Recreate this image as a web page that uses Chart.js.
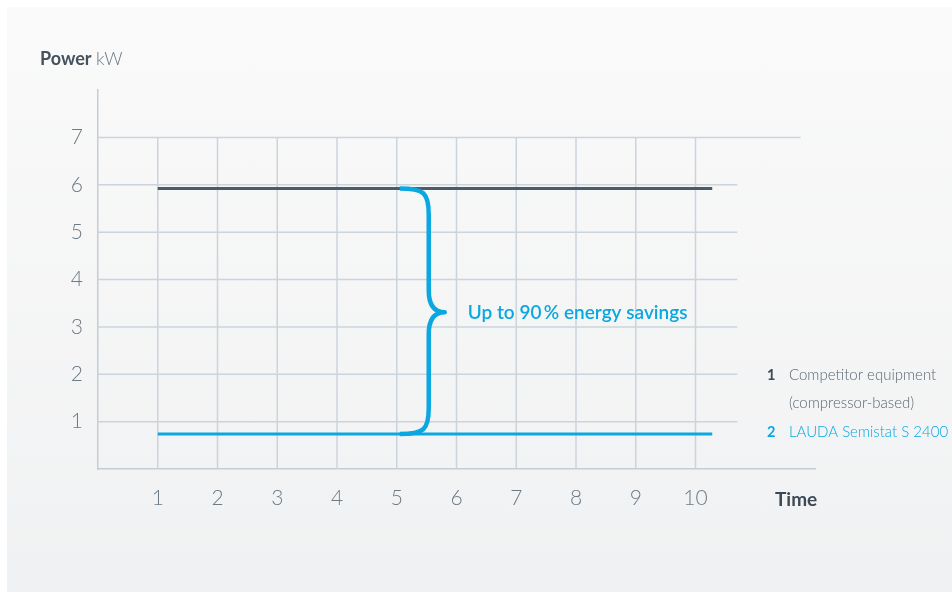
<!DOCTYPE html>
<html>
<head>
<meta charset="utf-8">
<script src="https://cdn.jsdelivr.net/npm/chart.js@4.4.1/dist/chart.umd.min.js"></script>
<style>
  body { margin: 0; background: #fff; }
  #wrap { position: relative; width: 952px; height: 592px; }
  #card { position: absolute; left: 7px; top: 7px; right: 0; bottom: 0;
          background: linear-gradient(#fafafa, #f0f1f2); }
  #chart { position: absolute; left: 0; top: 0; }
</style>
</head>
<body>
<div id="wrap">
  <div id="card"></div>
  <canvas id="chart" width="952" height="592"></canvas>
</div>
<script>
// chart values
const xTicks = [1, 2, 3, 4, 5, 6, 7, 8, 9, 10];
const yTicks = [1, 2, 3, 4, 5, 6, 7];
const timeSteps = [1, 10.28];
const competitorPower = [5.92, 5.92];
const laudaPower = [0.74, 0.74];
const legendNumbers = ["1", "2"];
const legendLabels = [["Competitor equipment", "(compressor-based)"], ["LAUDA Semistat S 2400"]];
const savingsText = "Up to 90\u2009% energy savings";
const braceAt = 5.05;

const gridColor = "#ccd4db";
const darkColor = "#4a5c6a";
const blueColor = "#0aa7e1";
const tickColor = "#6e7a84";
const fontFamily = "Lato, 'Open Sans', sans-serif";

const gridPlugin = {
    id: "customGrid",
    beforeDatasetsDraw(chart) {
        let ctx = chart.ctx;
        let xs = chart.scales.x;
        let ys = chart.scales.y;
        let area = chart.chartArea;
        ctx.save();
        ctx.strokeStyle = gridColor;
        ctx.lineWidth = 1.5;
        let topY = ys.getPixelForValue(yTicks[yTicks.length - 1]);
        xTicks.forEach(v => {
            let px = xs.getPixelForValue(v);
            ctx.beginPath();
            ctx.moveTo(px, topY);
            ctx.lineTo(px, area.bottom);
            ctx.stroke();
        });
        yTicks.forEach((v, i) => {
            let py = ys.getPixelForValue(v);
            let end = i === yTicks.length - 1 ? xs.getPixelForValue(11.76) : xs.getPixelForValue(10.7);
            ctx.beginPath();
            ctx.moveTo(area.left, py);
            ctx.lineTo(end, py);
            ctx.stroke();
        });
        ctx.restore();
    }
};

const extrasPlugin = {
    id: "extras",
    afterDatasetsDraw(chart) {
        let ctx = chart.ctx;
        let xs = chart.scales.x;
        let ys = chart.scales.y;
        ctx.save();

        // curly brace between the two lines
        let x0 = xs.getPixelForValue(braceAt);
        let yTop = ys.getPixelForValue(competitorPower[0]);
        let yBot = ys.getPixelForValue(laudaPower[0]);
        let yMid = (yTop + yBot) / 2 + 1;
        let xv = x0 + 29;
        let xTip = x0 + 45;
        ctx.strokeStyle = blueColor;
        ctx.lineWidth = 4.5;
        ctx.lineJoin = "round";
        ctx.beginPath();
        ctx.moveTo(x0, yTop);
        ctx.bezierCurveTo(x0 + 24, yTop, xv, yTop + 4, xv, yTop + 26);
        ctx.lineTo(xv, yMid - 22);
        ctx.bezierCurveTo(xv, yMid - 6, xv + 6, yMid, xTip, yMid);
        ctx.bezierCurveTo(xv + 6, yMid, xv, yMid + 6, xv, yMid + 22);
        ctx.lineTo(xv, yBot - 26);
        ctx.bezierCurveTo(xv, yBot - 4, x0 + 24, yBot, x0, yBot);
        ctx.stroke();

        ctx.fillStyle = blueColor;
        ctx.font = "600 19px " + fontFamily;
        ctx.textBaseline = "middle";
        ctx.textAlign = "left";
        ctx.fillText(savingsText, xTip + 23, yMid + 1);

        // axis titles
        ctx.textBaseline = "alphabetic";
        ctx.fillStyle = "#44525e";
        ctx.font = "bold 18px " + fontFamily;
        ctx.fillText("Power", 40, 65);
        let w = ctx.measureText("Power ").width;
        ctx.fillStyle = "#6b7782";
        ctx.font = "300 18px " + fontFamily;
        ctx.fillText("kW", 40 + w, 65);

        ctx.fillStyle = "#3d4a55";
        ctx.font = "bold 19px " + fontFamily;
        ctx.textBaseline = "middle";
        ctx.fillText("Time", 775, 500);

        // legend
        let ly = 375;
        legendNumbers.forEach((num, i) => {
            let col = i === 0 ? "#5b6770" : blueColor;
            ctx.fillStyle = i === 0 ? "#3d4a55" : blueColor;
            ctx.font = "bold 14.5px " + fontFamily;
            ctx.fillText(num, 767, ly);
            ctx.fillStyle = col;
            ctx.font = "300 15px " + fontFamily;
            legendLabels[i].forEach(line => {
                ctx.fillText(line, 789, ly);
                ly += 28.5;
            });
        });
        ctx.restore();
    }
};

let ctx = document.getElementById("chart").getContext("2d");

new Chart(ctx, {
    type: "line",
    data: {
        datasets: [{
            label: "Competitor equipment",
            data: timeSteps.map((t, i) => ({ x: t, y: competitorPower[i] })),
            borderColor: darkColor,
            borderWidth: 3,
            pointRadius: 0
        }, {
            label: "LAUDA Semistat S 2400",
            data: timeSteps.map((t, i) => ({ x: t, y: laudaPower[i] })),
            borderColor: blueColor,
            borderWidth: 3,
            pointRadius: 0
        }]
    },
    options: {
        responsive: false,
        animation: false,
        layout: { padding: { top: 90, right: 137, left: 0, bottom: 0 } },
        plugins: { legend: { display: false }, tooltip: { enabled: false } },
        scales: {
            x: {
                type: "linear",
                min: 0,
                max: 12,
                afterBuildTicks: s => { s.ticks = xTicks.map(v => ({ value: v })); },
                afterFit: s => { s.height = 123; },
                grid: { display: false, drawTicks: false },
                border: { color: "#c4cdd5", width: 1.5 },
                ticks: { color: tickColor, padding: 17, font: { family: fontFamily, size: 21, weight: 300 } }
            },
            y: {
                min: 0,
                max: 8,
                afterBuildTicks: s => { s.ticks = yTicks.map(v => ({ value: v })); },
                afterFit: s => { s.width = 98; },
                grid: { display: false, drawTicks: false },
                border: { color: "#c4cdd5", width: 1.5 },
                ticks: { color: tickColor, padding: 15, font: { family: fontFamily, size: 21, weight: 300 } }
            }
        }
    },
    plugins: [gridPlugin, extrasPlugin]
});
</script>
</body>
</html>
